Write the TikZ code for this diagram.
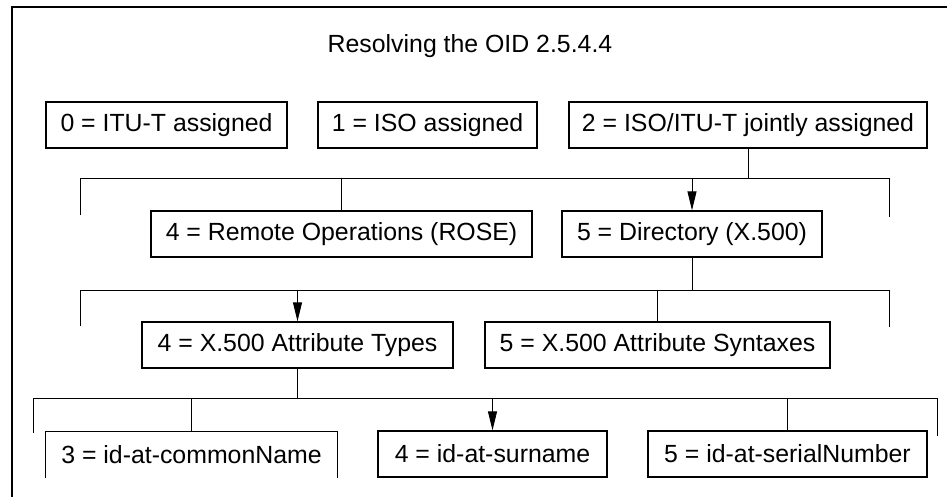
\documentclass[tikz,border=0pt]{standalone}
\usepackage{fontspec}
\setmainfont{Liberation Sans}
\usetikzlibrary{arrows.meta}

\begin{document}
\begin{tikzpicture}
      [x=1pt,y=-1pt,%%%%%%%%%%%%%%%%%%%%%%%%%%%%%%
      oidbox/.style={rectangle,draw=black,line width=1.3pt,inner sep=0pt,
        minimum height=46pt,font=\fontsize{24.85}{30}\selectfont},
      link/.style={line width=0.9pt},
      linkarr/.style={line width=0.9pt,-{Triangle[length=19pt,width=9pt]}},
      frame/.style={line width=2.6pt},
      ]%%%%%%%%%%%%%%%%%%%%%%%%%%%%%%
      \useasboundingbox (0,0) rectangle (947,497);

      % outer frame (only top and left show)
      \draw[frame] (12,497) -- (12,7) -- (947,7);

      \node[font=\fontsize{24.85}{30}\selectfont] (title) at (470,46) {Resolving the OID 2.5.4.4};

      % first arc
      \node[oidbox,minimum width=241pt] (itut)  at (166.5,125) {0 = ITU-T assigned};
      \node[oidbox,minimum width=219pt] (iso)   at (427.5,125) {1 = ISO assigned};
      \node[oidbox,minimum width=358pt] (joint) at (748,125)   {2 = ISO/ITU-T jointly assigned};

      % second arc
      \node[oidbox,minimum width=381pt] (rose) at (341.5,234) {4 = Remote Operations (ROSE)};
      \node[oidbox,minimum width=260pt] (ds)   at (692,234)   {5 = Directory (X.500)};

      % third arc
      \node[oidbox,minimum width=311pt] (attrtypes)  at (297.5,345) {4 = X.500 Attribute Types};
      \node[oidbox,minimum width=345pt] (attrsyntax) at (657.5,345) {5 = X.500 Attribute Syntaxes};

      % fourth arc
      \node[oidbox,draw=none,minimum width=291pt,minimum height=45pt] (cn) at (191.5,454.5) {3 = id-at-commonName};
      \draw[line width=1.3pt] (cn.south west) -- (cn.north west) -- (cn.north east) -- (cn.south east);
      \node[oidbox,minimum width=229pt] (sn)     at (492.5,454) {4 = id-at-surname};
      \node[oidbox,minimum width=279pt] (serial) at (787.5,454) {5 = id-at-serialNumber};

      % buses
      \coordinate (busa) at (80,178);  \coordinate (busa-r) at (889,178);
      \coordinate (busb) at (80,290);  \coordinate (busb-r) at (889,290);
      \coordinate (busc) at (33,398);  \coordinate (busc-r) at (937,398);

      \draw[link] (busa) ++(0,37) -- (busa) -- (busa-r) -- ++(0,39);
      \draw[link] (joint.south) -- (joint.south |- busa);
      \draw[link] (busa -| rose.north) -- (rose.north);
      \draw[linkarr] (busa -| ds.north) -- (ds.north);

      \draw[link] (busb) ++(0,36) -- (busb) -- (busb-r) -- ++(0,37);
      \draw[link] (ds.south) -- (ds.south |- busb);
      \draw[linkarr] (busb -| attrtypes.north) -- (attrtypes.north);
      \draw[link] (busb -| attrsyntax.north) -- (attrsyntax.north);

      \draw[link] (busc) ++(0,35) -- (busc) -- (busc-r) -- ++(0,38);
      \draw[link] (attrtypes.south) -- (attrtypes.south |- busc);
      \draw[link] (busc -| cn.north) -- (cn.north);
      \draw[linkarr] (busc -| sn.north) -- (sn.north);
      \draw[link] (busc -| serial.north) -- (serial.north);
    \end{tikzpicture}
\end{document}
